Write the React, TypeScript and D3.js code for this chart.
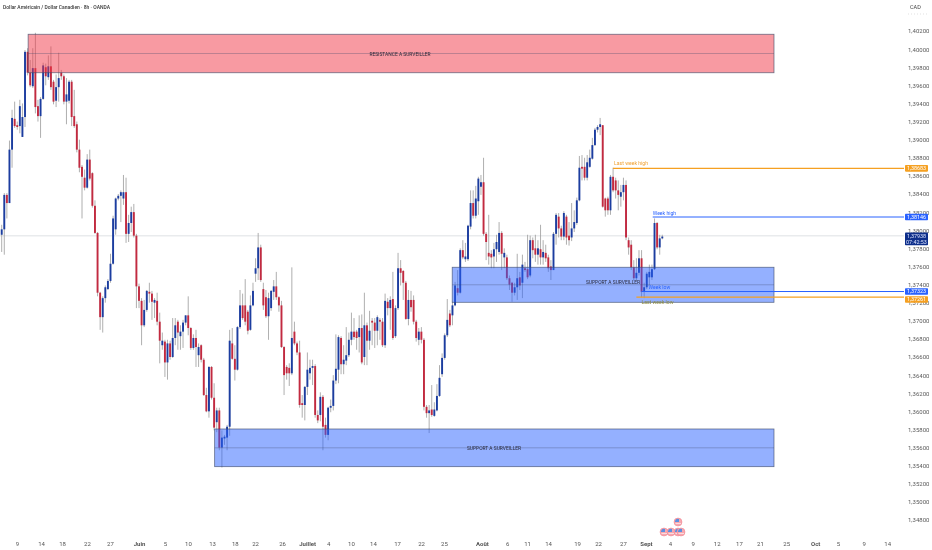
import React, { useEffect, useRef } from "react";
import { select, scaleLinear, axisRight, axisBottom, range } from "d3";

// USD/CAD 8h candles, prices in 1/10000 (13793 = 1,3793)
const opens = [13795,13801,13839,13830,13889,13923,13916,13915,13903,13925,13997,13974,13959,13979,13937,13926,13945,13980,13969,13981,13964,13943,13958,13974,13970,13942,13943,13964,13926,13917,13889,13870,13858,13847,13878,13863,13827,13797,13731,13704,13725,13735,13744,13763,13801,13835,13838,13835,13842,13796,13808,13820,13794,13738,13722,13695,13712,13732,13730,13720,13722,13699,13673,13677,13654,13675,13660,13681,13699,13683,13688,13698,13706,13692,13670,13681,13662,13673,13657,13618,13600,13649,13615,13588,13601,13560,13570,13571,13583,13675,13658,13646,13693,13717,13717,13710,13690,13717,13752,13758,13781,13735,13726,13705,13714,13732,13738,13726,13717,13671,13649,13648,13642,13688,13675,13665,13609,13607,13627,13642,13648,13650,13596,13596,13616,13585,13574,13604,13606,13634,13646,13681,13652,13656,13662,13679,13688,13688,13682,13692,13660,13695,13678,13700,13698,13689,13701,13699,13673,13721,13714,13724,13683,13714,13758,13755,13742,13702,13723,13723,13699,13679,13688,13679,13605,13598,13602,13595,13601,13617,13641,13659,13684,13708,13706,13717,13736,13731,13778,13768,13768,13804,13830,13816,13832,13848,13853,13796,13775,13774,13771,13779,13776,13797,13770,13770,13747,13742,13731,13737,13748,13742,13758,13757,13750,13789,13780,13773,13779,13770,13775,13770,13760,13756,13796,13815,13802,13793,13815,13794,13792,13802,13808,13833,13870,13870,13858,13870,13879,13894,13911,13914,13916,13835,13835,13822,13859,13855,13844,13837,13842,13850,13789,13784,13759,13747,13753,13769,13732,13737,13748,13748,13757,13808,13781,13791];
const closes = [13801,13839,13830,13889,13924,13915,13914,13937,13925,13997,13974,13960,13979,13936,13926,13945,13982,13970,13981,13958,13942,13958,13968,13970,13942,13950,13964,13925,13915,13889,13869,13859,13847,13878,13857,13827,13797,13731,13704,13725,13737,13744,13763,13813,13835,13838,13842,13842,13796,13808,13820,13794,13738,13722,13695,13712,13733,13730,13721,13723,13699,13678,13678,13654,13675,13660,13681,13695,13687,13688,13698,13706,13692,13670,13681,13671,13671,13657,13618,13600,13649,13615,13582,13601,13560,13571,13572,13583,13678,13658,13646,13693,13717,13703,13699,13689,13717,13733,13758,13781,13745,13717,13705,13725,13733,13738,13726,13717,13671,13640,13642,13642,13681,13675,13665,13607,13607,13627,13646,13648,13650,13596,13590,13616,13583,13574,13604,13606,13634,13647,13682,13652,13657,13662,13679,13688,13682,13681,13692,13654,13695,13678,13689,13698,13689,13704,13699,13673,13722,13714,13723,13681,13714,13758,13753,13742,13702,13723,13715,13699,13681,13688,13679,13605,13598,13601,13596,13602,13617,13637,13659,13684,13701,13695,13717,13739,13731,13778,13770,13771,13805,13830,13816,13835,13857,13853,13796,13787,13771,13770,13779,13787,13797,13774,13775,13747,13740,13731,13737,13747,13739,13762,13756,13748,13789,13778,13773,13780,13770,13776,13769,13758,13756,13796,13817,13802,13793,13819,13792,13789,13802,13809,13833,13869,13868,13858,13875,13880,13894,13911,13914,13917,13826,13822,13822,13859,13844,13844,13839,13842,13850,13792,13781,13759,13747,13753,13769,13732,13737,13752,13754,13757,13808,13781,13791,13793];
const highs = [13806,13841,13841,13899,13933,13942,13920,13944,13940,13999,14001,13988,14001,14018,13944,13947,13985,13984,13993,14003,13966,13972,13996,13977,13972,13968,13966,13966,13955,13920,13900,13872,13867,13884,13889,13864,13833,13798,13732,13727,13739,13746,13774,13816,13836,13840,13844,13861,13858,13817,13826,13829,13796,13741,13725,13723,13734,13742,13733,13725,13731,13709,13687,13679,13679,13678,13703,13703,13701,13695,13701,13706,13727,13693,13685,13690,13675,13674,13659,13626,13650,13650,13631,13604,13604,13579,13574,13585,13690,13692,13673,13694,13734,13730,13746,13712,13728,13742,13769,13797,13784,13742,13734,13731,13734,13745,13754,13727,13722,13672,13651,13653,13759,13699,13677,13678,13618,13628,13665,13657,13657,13652,13601,13621,13618,13593,13605,13613,13640,13685,13684,13683,13673,13693,13687,13709,13703,13690,13706,13707,13731,13698,13711,13703,13703,13706,13703,13703,13730,13725,13727,13754,13717,13775,13767,13756,13744,13734,13733,13728,13701,13692,13693,13681,13607,13607,13629,13610,13630,13651,13664,13686,13724,13712,13721,13743,13756,13780,13789,13786,13806,13844,13844,13849,13859,13861,13880,13798,13817,13778,13786,13795,13809,13799,13780,13773,13750,13743,13742,13774,13754,13773,13765,13795,13794,13792,13795,13789,13806,13789,13784,13773,13767,13798,13819,13819,13805,13821,13817,13809,13830,13822,13836,13882,13883,13880,13883,13889,13902,13913,13916,13924,13916,13836,13837,13861,13869,13858,13855,13850,13858,13855,13792,13789,13767,13769,13778,13778,13742,13754,13762,13762,13813,13809,13795,13795];
const lows = [13776,13773,13813,13830,13869,13913,13911,13907,13903,13914,13971,13958,13957,13929,13920,13902,13944,13960,13966,13955,13939,13936,13942,13966,13939,13917,13940,13915,13913,13886,13864,13813,13844,13846,13855,13825,13796,13727,13690,13687,13720,13734,13742,13762,13795,13833,13809,13828,13786,13787,13798,13792,13714,13714,13673,13693,13710,13720,13701,13703,13695,13653,13668,13638,13635,13657,13659,13673,13668,13668,13670,13695,13684,13668,13668,13649,13649,13654,13617,13599,13593,13613,13579,13577,13557,13538,13563,13557,13573,13657,13634,13645,13691,13701,13695,13685,13689,13716,13743,13745,13743,13712,13703,13679,13711,13723,13723,13710,13670,13618,13635,13628,13640,13673,13662,13604,13593,13590,13618,13635,13629,13593,13587,13589,13557,13571,13568,13599,13601,13630,13631,13641,13641,13651,13660,13673,13679,13668,13665,13652,13651,13651,13668,13673,13670,13673,13679,13671,13670,13706,13690,13679,13681,13712,13739,13723,13701,13695,13710,13696,13677,13673,13675,13601,13593,13576,13594,13594,13600,13616,13638,13657,13682,13693,13695,13716,13728,13730,13768,13765,13766,13801,13813,13813,13817,13839,13794,13767,13762,13758,13758,13765,13773,13756,13758,13745,13734,13721,13728,13723,13734,13725,13754,13746,13748,13769,13765,13762,13762,13762,13765,13754,13745,13756,13784,13792,13789,13789,13784,13783,13788,13798,13806,13832,13855,13855,13855,13869,13878,13893,13908,13905,13825,13815,13817,13817,13842,13835,13822,13826,13833,13789,13773,13756,13744,13745,13750,13726,13725,13735,13739,13745,13756,13779,13773,13790];

const yTicks = range(1.402, 1.3479, -0.002);
const xLabels = ["9","14","18","22","27","Juin","5","10","13","18","22","26","Juillet","4","10","14","17","22","25","Août","6","11","14","19","22","27","Sept","4","9","12","17","21","25","Oct","5","9","14"];
const xBars = [5.9,15.2,23.3,32.9,41.8,53,63,71.9,81.2,90,97.8,108.2,117.9,126,134.8,143.3,152.6,161.9,170.7,185.4,195.1,202.8,210.9,222.1,230.2,239.8,248.7,257.9,266.7,276,284.6,292.7,302.8,314,322.8,332.7,341.8];
const monthLabels = ["Juin","Juillet","Août","Sept","Oct"];

const FONT = "Roboto, 'Open Sans', sans-serif";
const BLUE = "#1a3ca0";
const RED = "#c2293f";
const ORANGE = "#f5a020";
const LINE_BLUE = "#2962ff";

const zones = [
  { label: "RESISTANCE A SURVEILLER", bar0: 10.2, hi: 1.40164, lo: 1.39739, color: "#f23645", labelX: 400, labelDy: 2 },
  { label: "SUPPORT A SURVEILLER", bar0: 173.9, hi: 1.37591, lo: 1.37204, color: "#2962ff", labelX: 613, labelDy: -0.5 },
  { label: "SUPPORT A SURVEILLER", bar0: 82.2, hi: 1.35805, lo: 1.35389, color: "#2962ff", labelX: 494, labelDy: 2 },
];

const levels = [
  { label: "Last week high", price: 1.38683, bar0: 236, color: ORANGE, text: "#f0a030", labelDy: -3, labelDx: 1, w: 1.3 },
  { label: "Week high", price: 1.38146, bar0: 251.3, color: LINE_BLUE, text: LINE_BLUE, labelDy: -2.5, labelDx: 0, w: 1 },
  { label: "Week low", price: 1.37323, bar0: 247, color: LINE_BLUE, text: LINE_BLUE, labelDy: -2.2, labelDx: 7, w: 1 },
  { label: "Last week low", price: 1.37261, bar0: 245, color: ORANGE, text: "#8c8a3a", labelDy: 7, labelDx: 5, w: 1.3 },
];

const W = 932;
const H = 550;

export default function App() {
  const svgRef = useRef<SVGSVGElement>(null);

  useEffect(() => {
    const svg = select(svgRef.current!);
    svg.selectAll("*").remove();

    const defs = svg.append("defs");
    defs.append("filter").attr("id", "soft")
      .attr("x", 0).attr("y", 0).attr("width", 1).attr("height", 1)
      .append("feGaussianBlur").attr("stdDeviation", 0.3);

    const x = scaleLinear().domain([0, 255]).range([1.7, 662.3]);
    const y = scaleLinear().domain([1.402, 1.348]).range([31, 520]);
    const px = (v: number) => y(v / 10000);
    const root = svg.append("g").attr("filter", "url(#soft)");

    // invisible rect so the filter region covers the whole picture
    root.append("rect").attr("width", W).attr("height", H).attr("fill", "#ffffff");

    root.append("line")
      .attr("x1", 0).attr("x2", 904)
      .attr("y1", y(1.37938)).attr("y2", y(1.37938))
      .attr("stroke", "#d5d9de").attr("stroke-width", 0.8);

    const candles = root.append("g");
    opens.forEach((o, i) => {
      const c = closes[i];
      candles.append("line")
        .attr("x1", x(i)).attr("x2", x(i))
        .attr("y1", px(highs[i])).attr("y2", px(lows[i]))
        .attr("stroke", "#9a9a9a").attr("stroke-width", 0.8);
      candles.append("rect")
        .attr("x", x(i) - 0.95).attr("width", 1.9)
        .attr("y", px(Math.max(o, c)))
        .attr("height", Math.max(0.8, Math.abs(px(o) - px(c))))
        .attr("fill", c >= o ? BLUE : RED);
    });

    zones.forEach((z) => {
      const g = root.append("g");
      const left = x(z.bar0);
      g.append("rect")
        .attr("x", left).attr("width", 774 - left)
        .attr("y", y(z.hi)).attr("height", y(z.lo) - y(z.hi))
        .attr("fill", z.color).attr("fill-opacity", 0.5)
        .attr("stroke", "#3c4a6a").attr("stroke-opacity", 0.75).attr("stroke-width", 0.8);
      const mid = (y(z.hi) + y(z.lo)) / 2;
      g.append("line")
        .attr("x1", left).attr("x2", 774).attr("y1", mid).attr("y2", mid)
        .attr("stroke", "#3c4a6a").attr("stroke-opacity", 0.45).attr("stroke-width", 0.7);
      g.append("text")
        .attr("x", z.labelX).attr("y", mid + z.labelDy)
        .attr("text-anchor", "middle")
        .attr("font-family", FONT).attr("font-size", 4.9).attr("fill", "#2a2a3a")
        .text(z.label);
    });

    levels.forEach((l) => {
      const left = x(l.bar0);
      root.append("line")
        .attr("x1", left).attr("x2", 904).attr("y1", y(l.price)).attr("y2", y(l.price))
        .attr("stroke", l.color).attr("stroke-width", l.w);
      root.append("text")
        .attr("x", left + l.labelDx).attr("y", y(l.price) + l.labelDy)
        .attr("font-family", FONT).attr("font-size", 5.1).attr("fill", l.text)
        .text(l.label);
    });

    const yAxis = axisRight(y)
      .tickValues(yTicks)
      .tickSize(0)
      .tickPadding(0)
      .tickFormat((d) => (d as number).toFixed(5).replace(".", ","));
    const ya = root.append("g").attr("transform", "translate(908,0)").call(yAxis as any);
    ya.select(".domain").remove();
    ya.selectAll("text").attr("font-family", FONT).attr("font-size", 6).attr("fill", "#5a5a5a");

    const xAxis = axisBottom(x)
      .tickValues(xBars)
      .tickSize(0)
      .tickPadding(0)
      .tickFormat((_, i) => xLabels[i]);
    const xa = root.append("g").attr("transform", "translate(0,541.5)").call(xAxis as any);
    xa.select(".domain").remove();
    xa.selectAll("text")
      .attr("font-family", FONT).attr("font-size", 6).attr("fill", "#555")
      .attr("font-weight", (_, i) => (monthLabels.includes(xLabels[i]) ? 700 : 400));

    const tag = (label: string, price: number, fill: string, dy = 0) => {
      const cy = y(price) + dy;
      root.append("rect")
        .attr("x", 905).attr("width", 23).attr("y", cy - 3.3).attr("height", 6.6)
        .attr("rx", 0.8).attr("fill", fill);
      root.append("text")
        .attr("x", 916.5).attr("y", cy + 1.9).attr("text-anchor", "middle")
        .attr("font-family", FONT).attr("font-size", 5.4).attr("fill", "#ffffff")
        .text(label);
    };
    tag("1,38683", 1.38683, ORANGE);
    tag("1,38146", 1.38146, LINE_BLUE);
    tag("1,37323", 1.37323, LINE_BLUE);
    tag("1,37261", 1.37261, ORANGE, 2.3);

    const cy = y(1.37938);
    root.append("rect")
      .attr("x", 905).attr("width", 23).attr("y", cy - 3.4).attr("height", 12.8)
      .attr("rx", 0.8).attr("fill", "#0d2e8a");
    ["1,37938", "07:42:53"].forEach((t, i) => {
      root.append("text")
        .attr("x", 916.5).attr("y", cy + 2 + i * 6).attr("text-anchor", "middle")
        .attr("font-family", FONT).attr("font-size", 5.4).attr("fill", "#dfe6ff")
        .text(t);
    });

    root.append("text")
      .attr("x", 3).attr("y", 9)
      .attr("font-family", FONT).attr("font-size", 5).attr("font-weight", 500).attr("fill", "#3a3a3a")
      .text("Dollar Américain / Dollar Canadien · 8h · OANDA");
    root.append("text")
      .attr("x", 910).attr("y", 9)
      .attr("font-family", FONT).attr("font-size", 5.5).attr("fill", "#444")
      .text("CAD");
    root.append("line")
      .attr("x1", 908).attr("x2", 927).attr("y1", 14).attr("y2", 14)
      .attr("stroke", "#cfcfcf").attr("stroke-width", 0.6).attr("stroke-dasharray", "1 2");

    // economic calendar flags under the last candles
    const flags = root.append("g");
    [[664, 532], [671, 532], [678, 532], [681, 532], [678, 522]].forEach(([fx, fy]) => {
      flags.append("circle").attr("cx", fx).attr("cy", fy).attr("r", 4)
        .attr("fill", "#f7a8b0").attr("stroke", "#ef7f8d").attr("stroke-width", 0.5);
      flags.append("path")
        .attr("d", `M${fx - 3},${fy - 1}A3.2,3.2 0 0 1 ${fx + 1},${fy - 3}L${fx + 1},${fy}L${fx - 3},${fy}Z`)
        .attr("fill", "#5b8fe0");
      flags.append("line")
        .attr("x1", fx - 2.5).attr("x2", fx + 3).attr("y1", fy + 1.5).attr("y2", fy + 1.5)
        .attr("stroke", "#fbe9ea").attr("stroke-width", 0.8);
    });
  }, []);

  return (
    <svg
      ref={svgRef}
      width={W}
      height={H}
      style={{ position: "absolute", left: 0, top: 0, background: "#ffffff" }}
    />
  );
}
